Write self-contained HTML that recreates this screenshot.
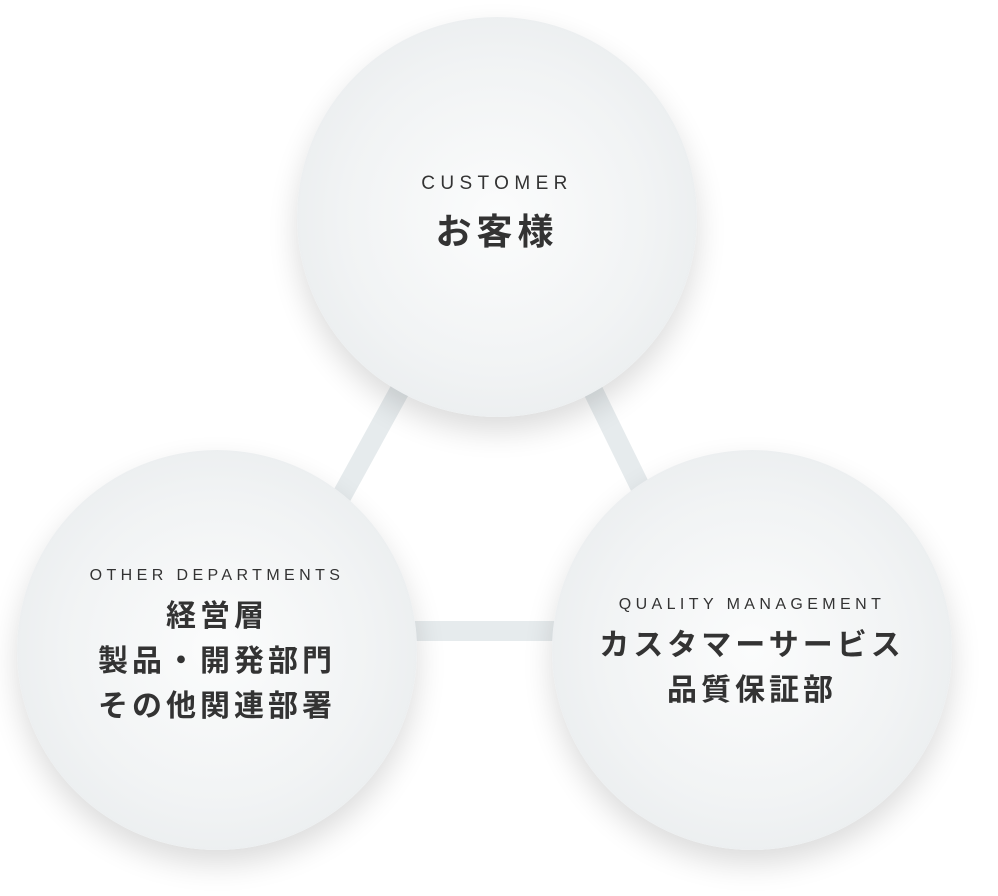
<!DOCTYPE html>
<html><head><meta charset="utf-8"><style>
body{margin:0;width:998px;height:896px;background:#fff;position:relative;overflow:hidden;font-family:"Liberation Sans","Noto Sans CJK JP",sans-serif;color:#333}
.c{position:absolute;width:400px;height:400px;border-radius:50%;background:radial-gradient(circle at 50% 50%,#fbfcfc 0%,#f1f3f4 55%,#e4e8ea 100%);box-shadow:0 14px 30px rgba(0,0,0,0.14)}
.t{position:absolute;left:0;width:100%;text-align:center;white-space:nowrap}
.en{font-size:17px;letter-spacing:4.4px;color:#333}
.jp{font-size:30px;font-weight:bold;letter-spacing:4px;line-height:45px}
</style></head><body>
<svg width="998" height="896" style="position:absolute;left:0;top:0">
<g stroke="#e6ebed" stroke-width="20"><line x1="495" y1="217" x2="257" y2="650"/><line x1="508" y1="217" x2="720" y2="650"/><line x1="217" y1="631" x2="752" y2="631"/></g>
</svg>
<div class="c" style="left:297px;top:17px">
<div class="t en" style="top:156px;font-size:19px;letter-spacing:5.4px">CUSTOMER</div>
<div class="t jp" style="top:192px;font-size:36px;letter-spacing:5px">お客様</div>
</div>
<div class="c" style="left:17px;top:450px">
<div class="t en" style="top:117px;font-size:16px">OTHER DEPARTMENTS</div>
<div class="t jp" style="top:144px">経営層<br>製品・開発部門<br>その他関連部署</div>
</div>
<div class="c" style="left:552px;top:450px">
<div class="t en" style="top:146px;font-size:16px">QUALITY MANAGEMENT</div>
<div class="t jp" style="top:173px">カスタマーサービス<br>品質保証部</div>
</div>
</body></html>
